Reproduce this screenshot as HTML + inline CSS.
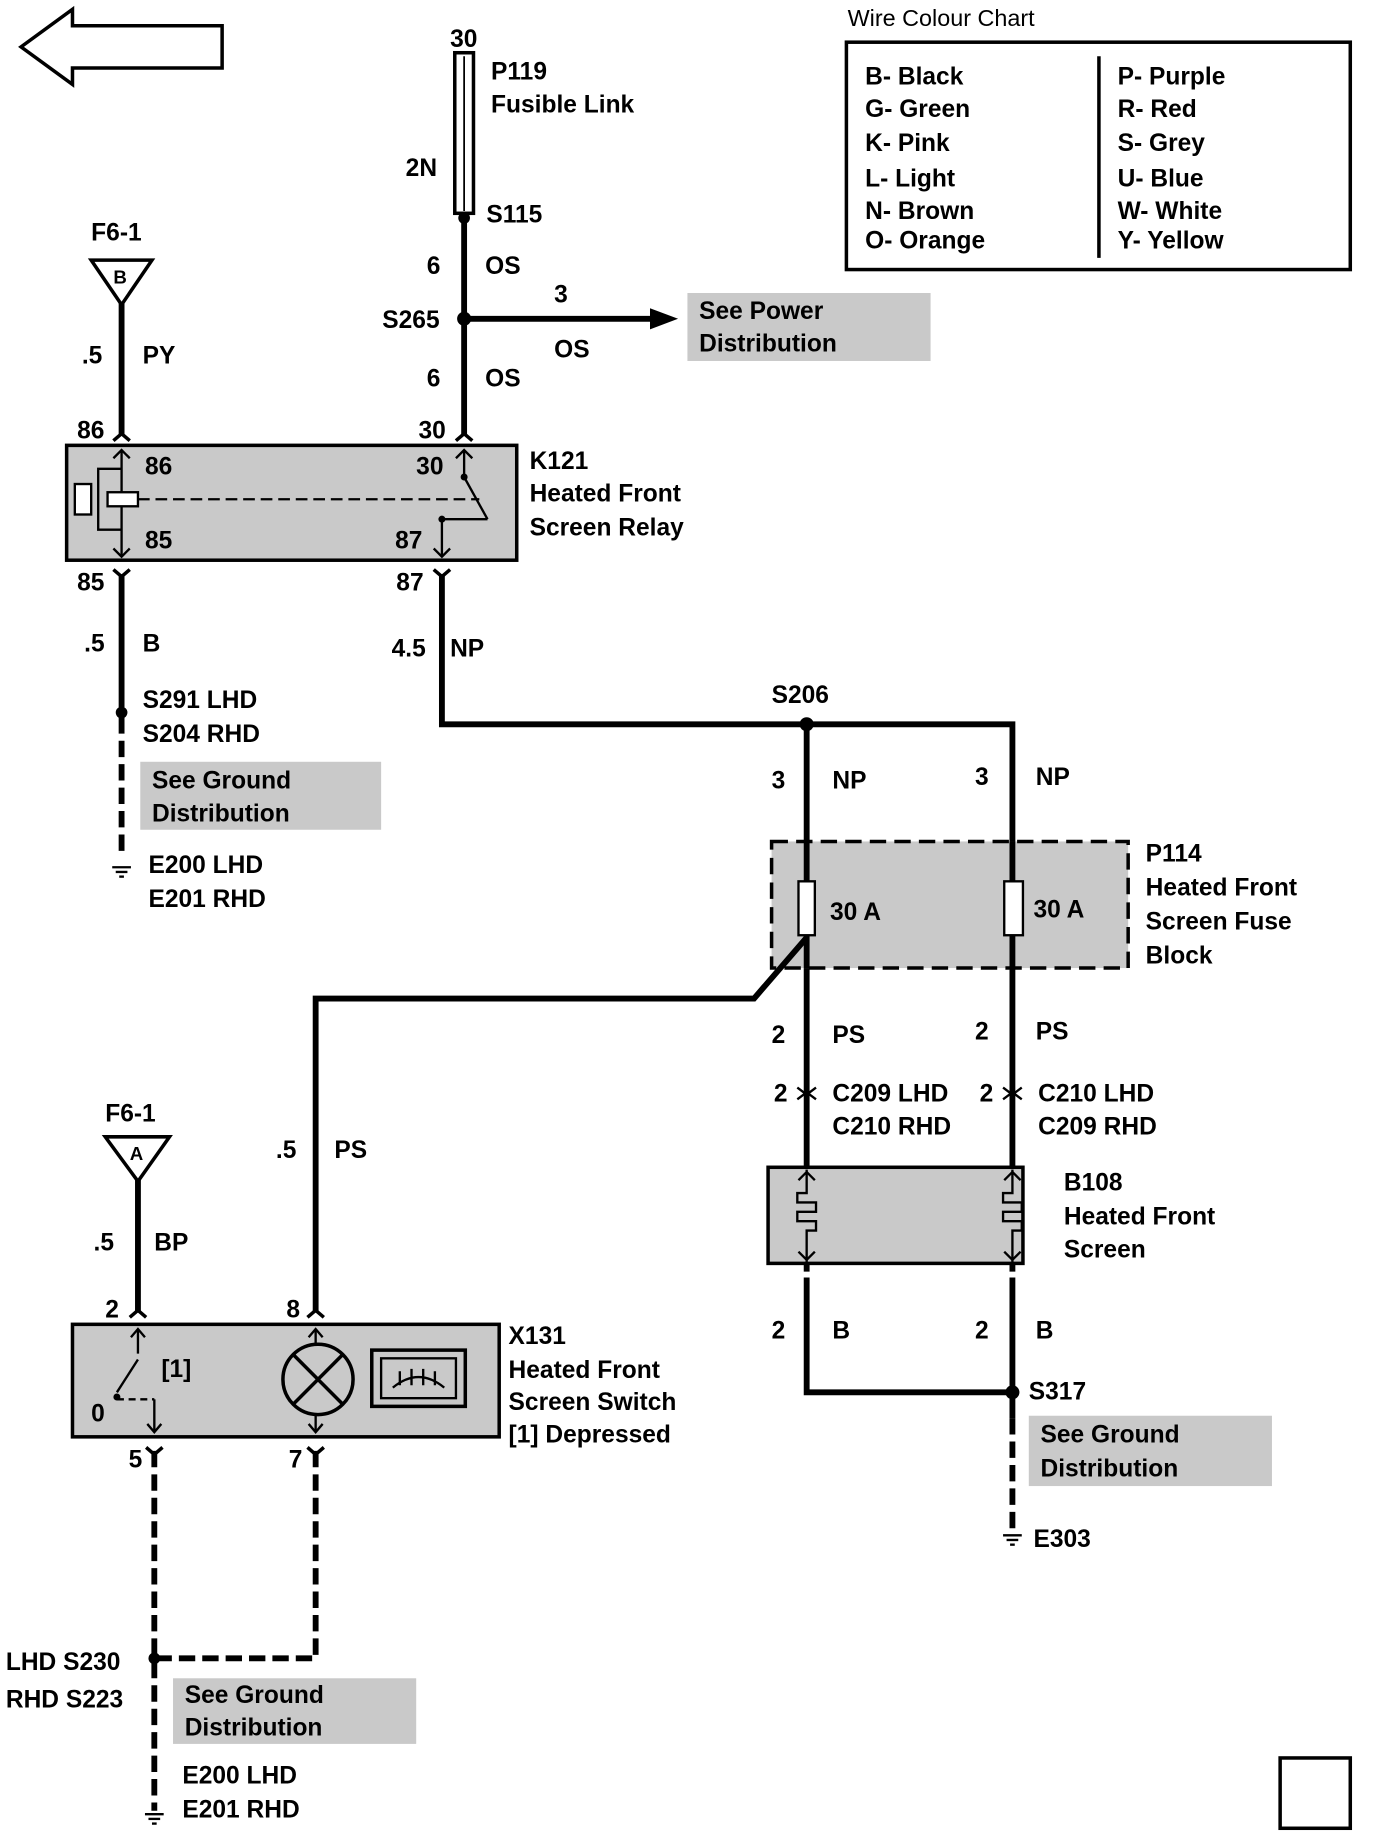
<!DOCTYPE html>
<html><head><meta charset="utf-8"><style>
html,body{margin:0;padding:0;background:#fff;}
svg{display:block;}
text{font-family:"Liberation Sans",sans-serif;font-weight:bold;font-size:21px;fill:#000;}
.w{stroke:#000;stroke-width:5;fill:none;}
.d{stroke:#000;stroke-width:5;fill:none;stroke-dasharray:14 6;}
.g{fill:#c9c9c9;stroke:none;}
.gb{fill:#c9c9c9;stroke:#000;stroke-width:3;}
.t{stroke:#000;stroke-width:3;fill:none;}
</style></head><body>
<svg width="1376" height="1840" viewBox="0 0 1177 1570" preserveAspectRatio="none" xmlns="http://www.w3.org/2000/svg">
<polygon points="18,40 62,8 62,22 190,22 190,58 62,58 62,72" fill="#fff" stroke="#000" stroke-width="3"/>

<text x="725" y="22" style="font-weight:normal;font-size:20px">Wire Colour Chart</text>
<rect x="724" y="36" width="431" height="194" fill="#fff" stroke="#000" stroke-width="3"/>
<line x1="940" y1="48" x2="940" y2="220" stroke="#000" stroke-width="3"/>
<text x="740" y="72">B- Black</text><text x="740" y="100">G- Green</text><text x="740" y="129">K- Pink</text>
<text x="740" y="159">L- Light</text><text x="740" y="187">N- Brown</text><text x="740" y="212">O- Orange</text>
<text x="956" y="72">P- Purple</text><text x="956" y="100">R- Red</text><text x="956" y="129">S- Grey</text>
<text x="956" y="159">U- Blue</text><text x="956" y="187">W- White</text><text x="956" y="212">Y- Yellow</text>

<text x="385" y="40">30</text>
<rect x="389" y="45" width="16" height="137" fill="#fff" stroke="#000" stroke-width="3"/>
<line x1="397" y1="48" x2="397" y2="180" stroke="#000" stroke-width="1.5"/>
<text x="420" y="68">P119</text><text x="420" y="96">Fusible Link</text>
<text x="347" y="150">2N</text>
<circle cx="397" cy="186" r="5"/>
<text x="416" y="190">S115</text>
<line class="w" x1="397" y1="186" x2="397" y2="372"/>
<text x="365" y="234">6</text><text x="415" y="234">OS</text>
<circle cx="397" cy="272" r="6"/>
<text x="327" y="280">S265</text>
<line class="w" x1="397" y1="272" x2="560" y2="272"/>
<polygon points="580,272 556,263 556,281"/>
<text x="474" y="258">3</text><text x="474" y="305">OS</text>
<rect class="g" x="588" y="250" width="208" height="58"/>
<text x="598" y="272">See Power</text><text x="598" y="300">Distribution</text>
<text x="365" y="330">6</text><text x="415" y="330">OS</text>
<text x="358" y="374">30</text>

<text x="78" y="205">F6-1</text>
<polygon points="78,222 130,222 104,260" fill="#fff" stroke="#000" stroke-width="3"/>
<text x="97" y="242" style="font-size:16px">B</text>
<line class="w" x1="104" y1="258" x2="104" y2="372"/>
<text x="70" y="310">.5</text><text x="122" y="310">PY</text>
<text x="66" y="374">86</text>
<path class="t" d="M97,376 l7,-6 l7,6 M390,376 l7,-6 l7,6"/>

<rect class="gb" x="57" y="380" width="385" height="98"/>
<text x="124" y="405">86</text><text x="124" y="468">85</text>
<text x="356" y="405">30</text><text x="338" y="468">87</text>
<line x1="104" y1="384" x2="104" y2="474" stroke="#000" stroke-width="2"/>
<path class="t" d="M97,391 l7,-7 l7,7 M97,468 l7,7 l7,-7 M371,468 l7,7 l7,-7 M390,391 l7,-7 l7,7" style="stroke-width:2"/>
<polyline points="104,400 84,400 84,452 104,452" fill="none" stroke="#000" stroke-width="2"/>
<rect x="64" y="413" width="14" height="26" fill="#fff" stroke="#000" stroke-width="2"/>
<rect x="92" y="420" width="26" height="12" fill="#fff" stroke="#000" stroke-width="2"/>
<line x1="118" y1="426" x2="410" y2="426" stroke="#000" stroke-width="2" stroke-dasharray="10 5"/>
<line x1="397" y1="384" x2="397" y2="405" stroke="#000" stroke-width="2"/>
<circle cx="397" cy="407" r="3"/>
<line x1="397" y1="407" x2="417" y2="443" stroke="#000" stroke-width="2"/>
<circle cx="378" cy="443" r="3"/>
<line x1="378" y1="443" x2="378" y2="474" stroke="#000" stroke-width="2"/>
<line x1="378" y1="443" x2="417" y2="443" stroke="#000" stroke-width="2"/>
<text x="453" y="400">K121</text><text x="453" y="428">Heated Front</text><text x="453" y="457">Screen Relay</text>

<text x="66" y="504">85</text><text x="339" y="504">87</text>
<path class="t" d="M97,486 l7,6 l7,-6 M371,486 l7,6 l7,-6"/>
<line class="w" x1="104" y1="490" x2="104" y2="612"/>
<line class="d" x1="104" y1="612" x2="104" y2="730"/>
<text x="72" y="556">.5</text><text x="122" y="556">B</text>
<circle cx="104" cy="608" r="5"/>
<text x="122" y="604">S291 LHD</text><text x="122" y="633">S204 RHD</text>
<rect class="g" x="120" y="650" width="206" height="58"/>
<text x="130" y="673">See Ground</text><text x="130" y="701">Distribution</text>
<line x1="96" y1="740" x2="112" y2="740" stroke="#000" stroke-width="2"/>
<line x1="99" y1="744" x2="109" y2="744" stroke="#000" stroke-width="2"/>
<line x1="102" y1="748" x2="106" y2="748" stroke="#000" stroke-width="2"/>
<text x="127" y="745">E200 LHD</text><text x="127" y="774">E201 RHD</text>

<polyline class="w" points="378,490 378,618 866,618 866,1085"/>
<line class="w" x1="690" y1="618" x2="690" y2="1085"/>
<text x="335" y="560">4.5</text><text x="385" y="560">NP</text>
<circle cx="690" cy="618" r="6"/>
<text x="660" y="600">S206</text>
<text x="660" y="673">3</text><text x="712" y="673">NP</text>
<text x="834" y="670">3</text><text x="886" y="670">NP</text>

<rect x="660" y="718" width="305" height="108" fill="#c9c9c9" stroke="#000" stroke-width="3" stroke-dasharray="14 7"/>
<line class="w" x1="690" y1="718" x2="690" y2="826"/>
<line class="w" x1="866" y1="718" x2="866" y2="826"/>
<rect x="683" y="752" width="14" height="46" fill="#fff" stroke="#000" stroke-width="2"/>
<rect x="859" y="752" width="16" height="46" fill="#fff" stroke="#000" stroke-width="2"/>
<text x="710" y="785">30 A</text><text x="884" y="783">30 A</text>
<text x="980" y="735">P114</text><text x="980" y="764">Heated Front</text><text x="980" y="793">Screen Fuse</text><text x="980" y="822">Block</text>
<polyline class="w" points="690,800 645,852 270,852 270,1120"/>
<text x="236" y="988">.5</text><text x="286" y="988">PS</text>
<text x="660" y="890">2</text><text x="712" y="890">PS</text>
<text x="834" y="887">2</text><text x="886" y="887">PS</text>
<text x="662" y="940">2</text><text x="712" y="940">C209 LHD</text><text x="712" y="968">C210 RHD</text>
<text x="838" y="940">2</text><text x="888" y="940">C210 LHD</text><text x="888" y="968">C209 RHD</text>
<path d="M682,928 l8,6 l8,-6 M682,938 l8,-6 l8,6" stroke="#000" stroke-width="2" fill="none"/>
<path d="M858,928 l8,6 l8,-6 M858,938 l8,-6 l8,6" stroke="#000" stroke-width="2" fill="none"/>

<rect class="gb" x="657" y="996" width="218" height="82"/>
<path d="M690,998 v20 h-8 v8 h16 v8 h-16 v8 h16 v8 h-8 v28" stroke="#000" stroke-width="2" fill="none"/>
<path d="M866,998 v20 h-8 v8 h16 v8 h-16 v8 h16 v8 h-8 v28" stroke="#000" stroke-width="2" fill="none"/>
<path class="t" d="M683,1007 l7,-7 l7,7 M859,1007 l7,-7 l7,7 M683,1068 l7,7 l7,-7 M859,1068 l7,7 l7,-7" style="stroke-width:2"/>
<text x="910" y="1016">B108</text><text x="910" y="1045">Heated Front</text><text x="910" y="1073">Screen</text>
<polyline class="w" points="690,1090 690,1188 866,1188"/>
<line class="w" x1="866" y1="1090" x2="866" y2="1210"/>
<line class="d" x1="866" y1="1210" x2="866" y2="1305"/>
<text x="660" y="1142">2</text><text x="712" y="1142">B</text>
<text x="834" y="1142">2</text><text x="886" y="1142">B</text>
<circle cx="866" cy="1188" r="6"/>
<text x="880" y="1194">S317</text>
<rect class="g" x="880" y="1208" width="208" height="60"/>
<text x="890" y="1231">See Ground</text><text x="890" y="1260">Distribution</text>
<line x1="858" y1="1310" x2="874" y2="1310" stroke="#000" stroke-width="2"/>
<line x1="861" y1="1314" x2="871" y2="1314" stroke="#000" stroke-width="2"/>
<line x1="864" y1="1318" x2="868" y2="1318" stroke="#000" stroke-width="2"/>
<text x="884" y="1320">E303</text>

<text x="90" y="957">F6-1</text>
<polygon points="90,970 145,970 118,1008" fill="#fff" stroke="#000" stroke-width="3"/>
<text x="111" y="990" style="font-size:16px">A</text>
<line class="w" x1="118" y1="1006" x2="118" y2="1120"/>
<text x="80" y="1067">.5</text><text x="132" y="1067">BP</text>
<text x="90" y="1124">2</text><text x="245" y="1124">8</text>
<path class="t" d="M111,1124 l7,-6 l7,6 M263,1124 l7,-6 l7,6"/>

<rect class="gb" x="62" y="1130" width="365" height="96"/>
<line x1="118" y1="1134" x2="118" y2="1155" stroke="#000" stroke-width="2"/>
<line x1="118" y1="1160" x2="100" y2="1188" stroke="#000" stroke-width="2"/>
<circle cx="100" cy="1192" r="3"/>
<line x1="100" y1="1194" x2="132" y2="1194" stroke="#000" stroke-width="2" stroke-dasharray="6 4"/>
<line x1="132" y1="1194" x2="132" y2="1222" stroke="#000" stroke-width="2"/>
<path class="t" d="M112,1141 l6,-7 l6,7 M264,1141 l6,-7 l6,7 M126,1215 l6,7 l6,-7 M264,1215 l6,7 l6,-7" style="stroke-width:2"/>
<text x="138" y="1175">[1]</text><text x="78" y="1213">0</text>
<line x1="270" y1="1134" x2="270" y2="1147" stroke="#000" stroke-width="2"/>
<line x1="270" y1="1207" x2="270" y2="1222" stroke="#000" stroke-width="2"/>
<circle cx="272" cy="1177" r="30" fill="none" stroke="#000" stroke-width="3"/>
<line x1="251" y1="1156" x2="293" y2="1198" stroke="#000" stroke-width="3"/>
<line x1="293" y1="1156" x2="251" y2="1198" stroke="#000" stroke-width="3"/>
<rect x="318" y="1152" width="80" height="48" fill="none" stroke="#000" stroke-width="3"/>
<rect x="326" y="1159" width="64" height="34" fill="none" stroke="#000" stroke-width="2"/>
<path d="M336,1184 q22,-18 44,0 M342,1170 v12 M352,1168 v14 M362,1168 v14 M372,1170 v12" stroke="#000" stroke-width="2" fill="none"/>
<text x="435" y="1147">X131</text><text x="435" y="1176">Heated Front</text><text x="435" y="1203">Screen Switch</text><text x="435" y="1231">[1]  Depressed</text>
<text x="110" y="1252">5</text><text x="247" y="1252">7</text>
<path class="t" d="M125,1235 l7,6 l7,-6 M263,1235 l7,6 l7,-6"/>
<line class="d" x1="132" y1="1238" x2="132" y2="1545"/>
<polyline class="d" points="270,1238 270,1415 132,1415"/>
<circle cx="132" cy="1415" r="5"/>
<text x="5" y="1425">LHD S230</text><text x="5" y="1457">RHD S223</text>
<rect class="g" x="148" y="1432" width="208" height="56"/>
<text x="158" y="1453">See Ground</text><text x="158" y="1481">Distribution</text>
<line x1="124" y1="1548" x2="140" y2="1548" stroke="#000" stroke-width="2"/>
<line x1="127" y1="1552" x2="137" y2="1552" stroke="#000" stroke-width="2"/>
<line x1="130" y1="1556" x2="134" y2="1556" stroke="#000" stroke-width="2"/>
<text x="156" y="1522">E200 LHD</text><text x="156" y="1551">E201 RHD</text>

<rect x="1095" y="1500" width="60" height="60" fill="#fff" stroke="#000" stroke-width="3"/>
</svg>
</body></html>
